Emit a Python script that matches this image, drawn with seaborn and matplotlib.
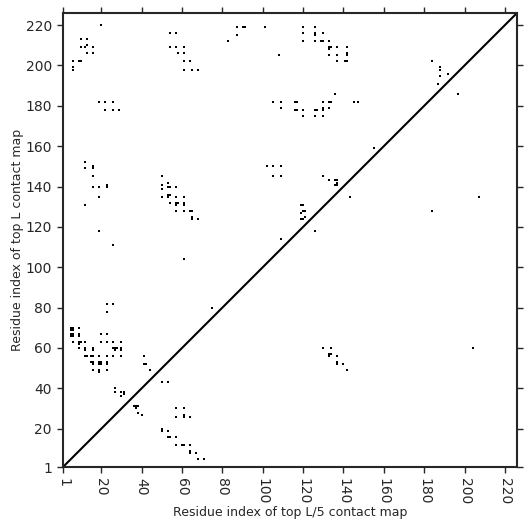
import pandas as pd
import matplotlib
matplotlib.use("Agg")
import matplotlib.pyplot as plt
import seaborn as sns

sns.set_style("ticks")

# Contacts above the diagonal (top L contact map)
top_l_x = [20, 10, 13, 10, 12, 13, 16, 13, 16, 6, 9, 10, 6, 6, 19, 22, 26, 22, 26, 29,
           54, 57, 54, 57, 61, 58, 61, 61, 64, 61, 65, 68,
           87, 90, 91, 101, 87, 83, 108, 120, 126, 120, 126, 126, 130,
           120, 126, 129, 130, 133, 133, 134, 133, 137, 142, 133, 137, 142, 142,
           137, 141, 142, 136, 105, 109, 116, 117, 130, 133, 134, 145, 147,
           109, 130, 130, 133, 116, 117, 120, 126, 127, 120, 126, 130,
           184, 188, 188, 188, 192, 187,
           12, 12, 16, 16, 16, 16, 19, 23, 23, 19, 12, 19, 26, 61,
           50, 50, 50, 53, 53, 54, 57, 50, 53, 54, 53, 57, 61,
           54, 57, 58, 57, 61, 61, 57, 61, 64, 65, 65, 65, 68,
           155, 102, 105, 109, 105, 109, 130, 133, 136, 137, 137, 136, 137,
           119, 120, 119, 120, 121, 121, 119, 120, 109,
           23, 26, 23, 75, 5, 6, 5, 6, 9, 5, 6, 5, 6, 9, 9, 20, 23,
           6, 9, 10, 9, 12, 20, 23, 26, 30, 9, 12, 12, 16, 16,
           26, 27, 28, 27, 30, 30, 12, 13, 15, 16, 19, 23, 26, 30,
           15, 16, 16, 19, 20, 19, 20, 23, 23, 16, 19, 19, 23,
           41, 41, 42, 44, 27, 27, 30, 31, 31, 30]
top_l_y = [220, 213, 213, 209, 209, 210, 209, 206, 206, 202, 202, 202, 199, 198, 182, 182, 182, 178, 178, 178,
           216, 216, 209, 209, 209, 206, 206, 202, 202, 198, 198, 198,
           219, 219, 219, 219, 215, 212, 205, 219, 219, 216, 216, 215, 216,
           212, 212, 212, 212, 212, 209, 209, 208, 209, 209, 205, 205, 206, 205,
           202, 202, 202, 186, 182, 182, 182, 182, 182, 182, 182, 182, 182,
           179, 179, 178, 179, 178, 178, 178, 178, 178, 175, 175, 175,
           202, 199, 198, 195, 196, 191,
           152, 149, 150, 149, 145, 140, 140, 141, 140, 135, 131, 118, 111, 104,
           145, 141, 139, 142, 140, 140, 140, 135, 136, 136, 135, 135, 135,
           132, 132, 132, 131, 132, 131, 128, 128, 128, 128, 125, 124, 124,
           159, 150, 150, 150, 145, 145, 145, 143, 143, 143, 142, 141, 141,
           131, 131, 127, 128, 128, 125, 124, 124, 114,
           82, 82, 78, 80, 70, 70, 69, 69, 70, 67, 67, 66, 66, 67, 66, 67, 67,
           63, 63, 63, 62, 63, 63, 63, 63, 63, 60, 60, 59, 60, 59,
           60, 60, 60, 59, 60, 59, 56, 56, 56, 56, 56, 56, 56, 56,
           53, 53, 52, 53, 53, 52, 52, 53, 52, 49, 49, 48, 49,
           56, 52, 52, 49, 40, 38, 38, 38, 37, 36]

# Contacts below the diagonal (top L/5 contact map)
top_l5_x = [197, 143, 126, 50, 53, 36, 37, 38, 37, 38, 40,
            57, 61, 57, 61, 61, 64, 50, 50, 53, 53, 54, 57,
            57, 60, 61, 64, 64, 64, 67, 68, 71,
            130, 134, 133, 134, 133, 137, 137, 137, 140, 142, 204, 184, 207]
top_l5_y = [186, 135, 118, 43, 43, 31, 31, 31, 30, 28, 27,
            30, 30, 26, 26, 27, 26, 20, 19, 19, 16, 16, 16,
            12, 12, 12, 12, 9, 8, 8, 5, 5,
            60, 60, 57, 57, 56, 56, 53, 52, 52, 49, 60, 128, 135]

ticks = [1] + list(range(20, 221, 20))
lim = (1, 226)

df = pd.DataFrame({
    "x": top_l_x + top_l5_x,
    "y": top_l_y + top_l5_y,
})

fig = plt.figure(figsize=(5.31, 5.31), dpi=100)
ax = fig.add_axes([0.1186, 0.1205, 0.855, 0.855])

sns.scatterplot(data=df, x="x", y="y", marker="s", s=4, color="black",
                linewidth=0, ax=ax)
ax.plot(lim, lim, color="black", lw=1.5)

ax.set_xlim(lim)
ax.set_ylim(lim)
ax.set_xticks(ticks)
ax.set_yticks(ticks)
ax.set_xticklabels(ticks, rotation=-90)
ax.tick_params(top=True, right=True, direction="out", length=4.5, width=1)
for sp in ax.spines.values():
    sp.set_linewidth(1.5)

ax.set_xlabel("Residue index of top L/5 contact map", fontsize=9, labelpad=1)
ax.set_ylabel("Residue index of top L contact map", fontsize=9, labelpad=1)

fig.savefig("out.png", dpi=100)
